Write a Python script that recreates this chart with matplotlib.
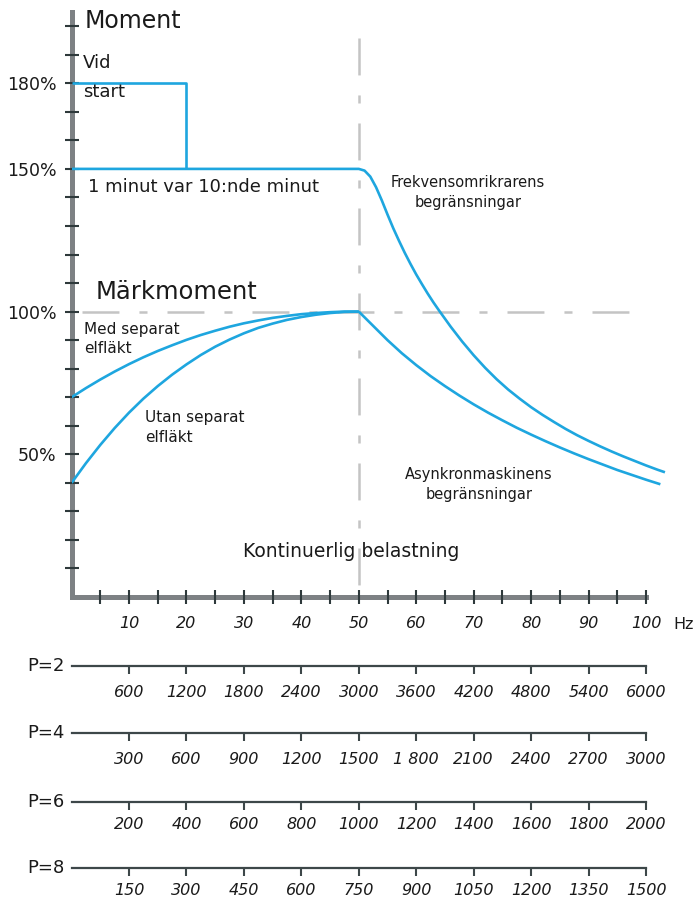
import matplotlib
matplotlib.use("Agg")
import matplotlib.pyplot as plt

plt.rcParams['font.family'] = ['DejaVu Sans']
plt.rcParams['lines.scale_dashes'] = False

# ---------------- data ----------------
freq_ticks = [10, 20, 30, 40, 50, 60, 70, 80, 90, 100]
freq_minor = [5, 15, 25, 35, 45, 55, 65, 75, 85, 95]
freq_labels = ['10', '20', '30', '40', '50', '60', '70', '80', '90', '100']

moment_ticks = [50, 100, 150, 180]
moment_labels = ['50%', '100%', '150%', '180%']
moment_minor = [10, 20, 30, 40, 60, 70, 80, 90, 110, 120, 130, 140, 160, 170, 190, 200]

# start torque (Vid start)
start_f = [0, 20, 20]
start_m = [180, 180, 150]

# Frekvensomriktarens begränsningar (150 %)
fo_f = [0, 50, 51, 52, 53, 54, 55, 56, 57, 58, 59, 60, 61, 62, 63, 64, 66, 68, 70,
        72, 74, 76, 78, 80, 82, 84, 86, 88, 90, 92, 94, 96, 98, 100, 102, 103.3]
fo_m = [150, 150, 149.4, 147.3, 143.6, 139.0, 134.0, 129.2, 124.8, 120.6, 116.7,
        113.0, 109.6, 106.3, 103.2, 100.3, 94.7, 89.5, 84.7, 80.3, 76.3, 72.7, 69.5,
        66.5, 63.8, 61.3, 58.9, 56.7, 54.7, 52.8, 51.0, 49.3, 47.7, 46.1, 44.6, 43.7]

# Med separat elfläkt
med_f = [0, 2.5, 5, 7.5, 10, 12.5, 15, 17.5, 20, 22.5, 25, 27.5, 30, 32.5, 35,
         37.5, 40, 42.5, 45, 47.5, 50]
med_m = [70, 73.2, 76.2, 79.0, 81.6, 84.0, 86.2, 88.2, 90.1, 91.8, 93.3, 94.7, 95.9,
         96.9, 97.8, 98.5, 99.1, 99.5, 99.8, 100, 100]

# Utan separat elfläkt
utan_f = [0, 2.5, 5, 7.5, 10, 12.5, 15, 17.5, 20, 22.5, 25, 27.5, 30, 32.5, 35,
          37.5, 40, 42.5, 45, 47.5, 50]
utan_m = [40, 46.9, 53.3, 59.2, 64.6, 69.5, 73.9, 77.9, 81.5, 84.8, 87.7, 90.2, 92.4,
          94.3, 95.8, 97.1, 98.1, 98.9, 99.5, 99.9, 100]

# Asynkronmaskinens begränsningar
asyn_f = [50, 52.5, 55, 57.5, 60, 62.5, 65, 67.5, 70, 72.5, 75, 77.5, 80, 82.5, 85,
          87.5, 90, 92.5, 95, 97.5, 100, 102.5]
asyn_m = [100, 95.0, 90.0, 85.4, 81.25, 77.4, 73.9, 70.6, 67.5, 64.6, 61.9, 59.3, 56.9,
          54.6, 52.4, 50.3, 48.3, 46.4, 44.5, 42.8, 41.1, 39.5]

# speed scales (rpm) for pole numbers
pole_names = ['P=2', 'P=4', 'P=6', 'P=8']
rpm_p2 = ['600', '1200', '1800', '2400', '3000', '3600', '4200', '4800', '5400', '6000']
rpm_p4 = ['300', '600', '900', '1200', '1500', '1 800', '2100', '2400', '2700', '3000']
rpm_p6 = ['200', '400', '600', '800', '1000', '1200', '1400', '1600', '1800', '2000']
rpm_p8 = ['150', '300', '450', '600', '750', '900', '1050', '1200', '1350', '1500']
rpm_labels = [rpm_p2, rpm_p4, rpm_p6, rpm_p8]

# ---------------- style ----------------
W, H = 700, 923
CURVE = '#1ea6df'
SPINE = '#7d8184'
TICK = '#2e393b'
DASH = '#c4c4c4'
TXT = '#1a1a1a'
PLINE = '#3d4749'

fig = plt.figure(figsize=(W / 100, H / 100), dpi=100)

x0_px, x_scale = 71.6, 5.744   # px of 0 Hz, px per Hz
y0_px, y_scale = 597.0, 2.854  # px of 0 %, px per %
XMAX, YMAX = 108, 205

ax = fig.add_axes([x0_px / W, (H - y0_px) / H, XMAX * x_scale / W, YMAX * y_scale / H])
ax.set_xlim(0, XMAX)
ax.set_ylim(0, YMAX)
ax.patch.set_alpha(0)

for s in ['top', 'right']:
    ax.spines[s].set_visible(False)
for s in ['left', 'bottom']:
    ax.spines[s].set_color(SPINE)
    ax.spines[s].set_linewidth(3.6)
    ax.spines[s].set_zorder(1)
ax.spines['bottom'].set_bounds(0, 100)
ax.spines['left'].set_bounds(0, YMAX)

ax.set_xticks(freq_ticks, freq_labels)
ax.set_xticks(freq_minor, minor=True)
ax.set_yticks(moment_ticks, moment_labels)
ax.set_yticks(moment_minor, minor=True)
ax.tick_params(axis='both', which='both', direction='inout', length=9.5, width=1.5,
               color=TICK)
ax.tick_params(axis='x', which='major', labelsize=11.5, pad=9, labelcolor=TXT)
ax.tick_params(axis='y', which='major', labelsize=12.5, pad=6, labelcolor=TXT)
for lbl in ax.get_xticklabels():
    lbl.set_style('italic')

# reference dashed lines
dash_pat = (0, (26.6, 14.4, 5.8, 14.4))
ax.plot([1.8, 100], [100, 100], color=DASH, lw=1.8, linestyle=dash_pat, zorder=2)
ax.plot([50, 50], [196, 0], color=DASH, lw=1.8, linestyle=dash_pat, zorder=2)

# curves
kw = dict(color=CURVE, lw=1.9, zorder=3, solid_joinstyle='round', solid_capstyle='butt')
ax.plot(start_f, start_m, **kw)
ax.plot(fo_f, fo_m, **kw)
ax.plot(med_f, med_m, **kw)
ax.plot(utan_f, utan_m, **kw)
ax.plot(asyn_f, asyn_m, **kw)

# texts
ax.text(2.3, 201.8, 'Moment', fontsize=17, color=TXT, ha='left', va='center')
ax.text(2.0, 187.1, 'Vid', fontsize=13, color=TXT, ha='left', va='center')
ax.text(2.0, 177.0, 'start', fontsize=13, color=TXT, ha='left', va='center')
ax.text(2.9, 143.7, '1 minut var 10:nde minut', fontsize=13, color=TXT, ha='left', va='center')
ax.text(4.1, 106.9, 'Märkmoment', fontsize=17.5, color=TXT, ha='left', va='center')
ax.text(2.2, 90.4, 'Med separat\nelfläkt', fontsize=11, color=TXT, ha='left', va='center',
        linespacing=1.4)
ax.text(12.8, 59.4, 'Utan separat\nelfläkt', fontsize=11, color=TXT, ha='left', va='center',
        linespacing=1.4)
ax.text(69.0, 141.7, 'Frekvensomrikrarens\nbegränsningar', fontsize=10.5, color=TXT,
        ha='center', va='center', linespacing=1.4)
ax.text(70.9, 39.4, 'Asynkronmaskinens\nbegränsningar', fontsize=10.5, color=TXT,
        ha='center', va='center', linespacing=1.4)
ax.text(48.7, 15.8, 'Kontinuerlig belastning', fontsize=13.5, color=TXT, ha='center',
        va='center', zorder=4)
ax.text(104.7, -9.5, 'Hz', fontsize=11.5, color=TXT, ha='left', va='center', clip_on=False)

# ---------------- rpm scales ----------------
line_px = [666, 733, 802, 868]
pads = [8, 8, 5, 5]
for name, labels, ypx, pad in zip(pole_names, rpm_labels, line_px, pads):
    a = fig.add_axes([x0_px / W, (H - ypx) / H, XMAX * x_scale / W, 0.0005])
    a.set_xlim(0, XMAX)
    a.set_ylim(0, 1)
    a.patch.set_alpha(0)
    for s in ['top', 'right', 'left']:
        a.spines[s].set_visible(False)
    a.spines['bottom'].set_bounds(0, 100)
    a.spines['bottom'].set_color(PLINE)
    a.spines['bottom'].set_linewidth(1.6)
    a.set_yticks([])
    a.set_xticks(freq_ticks, labels)
    a.tick_params(axis='x', direction='out', length=6, width=1.5, color=PLINE,
                  labelsize=11.5, pad=pad, labelcolor=TXT)
    for lbl in a.get_xticklabels():
        lbl.set_style('italic')
    a.text(-1.2, 0.0, name, fontsize=13, color=TXT, ha='right', va='center',
           clip_on=False)

fig.savefig('out.png', dpi=100)
